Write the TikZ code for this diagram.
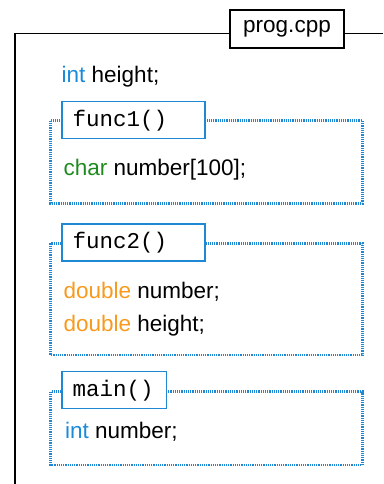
\documentclass[tikz,border=0pt]{standalone}
\usepackage{fontspec}
\setmainfont{Liberation Sans}
\setmonofont{Liberation Mono}
\definecolor{kwblue}{HTML}{1B8AD9}
\definecolor{kwgreen}{HTML}{1F8A1F}
\definecolor{kworange}{HTML}{F79A1E}
\definecolor{scopeblue}{HTML}{1E88D4}
\tikzset{
  code/.style={anchor=base west, inner sep=0pt, font=\fontsize{22.5}{27}\selectfont},
  scopebox/.style={draw=scopeblue, line width=2.5pt, dash pattern=on 1.2pt off 1pt},
  scopelabel/.style={draw=scopeblue, line width=1.4pt, fill=white, anchor=north west,
    inner xsep=10.5pt, inner ysep=0pt, align=left, minimum height=37pt,
    font=\ttfamily\fontsize{22.5}{27}\selectfont},
  filelabel/.style={draw=black, line width=1.4pt, fill=white, inner sep=0pt, font=\fontsize{22.5}{27}\selectfont},
  frame/.style={draw=black, line width=1.6pt}
}
\begin{document}
\begin{tikzpicture}[x=1pt, y=-1pt]
\useasboundingbox (0,0) rectangle (383,484);
% file frame
\coordinate (fl) at (15,484);
\coordinate (ftl) at (15,33.5);
\coordinate (fr) at (383,33.5);
\draw[frame] (fl) -- (ftl) -- (fr);
\node[filelabel, minimum width=114pt, minimum height=38pt] (file) at (287,29.2) {prog.cpp};

\node[code] (g1) at (61.5,83) {\textcolor{kwblue}{int} height;};

% func1 scope
\draw[scopebox] (50.7,120.7) rectangle (362.3,203.3);
\node[scopelabel, text width=122pt] (f1) at (61.3,101) {func1()};
\node[code] (c1) at (63.3,175) {\textcolor{kwgreen}{char} number[100];};

% func2 scope
\draw[scopebox] (50.7,243.3) rectangle (362.3,355);
\node[scopelabel, text width=122pt] (f2) at (61.3,223.3) {func2()};
\node[code] (c2) at (63.3,298.3) {\textcolor{kworange}{double} number;};
\node[code] (c3) at (63.3,331.7) {\textcolor{kworange}{double} height;};

% main scope
\draw[scopebox] (50.7,391.7) rectangle (362.3,465);
\node[scopelabel, text width=83.7pt] (m) at (61.3,371) {main()};
\node[code] (c4) at (65,438.3) {\textcolor{kwblue}{int} number;};
\end{tikzpicture}
\end{document}
